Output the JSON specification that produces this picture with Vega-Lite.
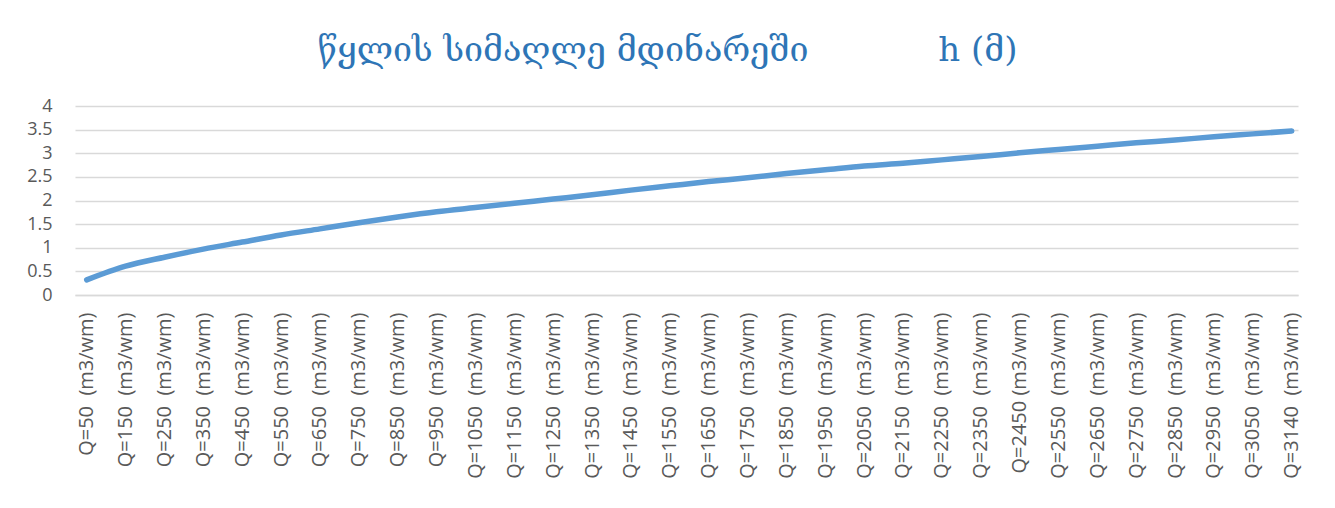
{
  "$schema": "https://vega.github.io/schema/vega-lite/v6.json",
  "autosize": {"type": "none"},
  "width": 1223,
  "height": 189,
  "padding": {"left": 75, "top": 106, "right": 37, "bottom": 213},
  "background": "white",
  "title": {
    "text": "წყლის სიმაღლე მდინარეში\u00a0\u00a0\u00a0\u00a0\u00a0\u00a0\u00a0\u00a0\u00a0\u00a0\u00a0\u00a0h (მ)",
    "font": "DejaVu Serif",
    "fontSize": 34,
    "fontWeight": "normal",
    "color": "#2E75B6",
    "anchor": "middle",
    "frame": "group",
    "baseline": "alphabetic",
    "offset": 2,
    "dx": -19
  },
  "data": {
    "values": [
      {"q": "Q=50\u00a0 (m3/wm)", "h": 0.32},
      {"q": "Q=150\u00a0 (m3/wm)", "h": 0.61},
      {"q": "Q=250\u00a0 (m3/wm)", "h": 0.80},
      {"q": "Q=350\u00a0 (m3/wm)", "h": 0.97},
      {"q": "Q=450\u00a0 (m3/wm)", "h": 1.12},
      {"q": "Q=550\u00a0 (m3/wm)", "h": 1.27},
      {"q": "Q=650\u00a0 (m3/wm)", "h": 1.40},
      {"q": "Q=750\u00a0 (m3/wm)", "h": 1.53},
      {"q": "Q=850\u00a0 (m3/wm)", "h": 1.65},
      {"q": "Q=950\u00a0 (m3/wm)", "h": 1.76},
      {"q": "Q=1050\u00a0 (m3/wm)", "h": 1.85},
      {"q": "Q=1150\u00a0 (m3/wm)", "h": 1.94},
      {"q": "Q=1250\u00a0 (m3/wm)", "h": 2.03},
      {"q": "Q=1350\u00a0 (m3/wm)", "h": 2.12},
      {"q": "Q=1450\u00a0 (m3/wm)", "h": 2.22},
      {"q": "Q=1550\u00a0 (m3/wm)", "h": 2.31},
      {"q": "Q=1650\u00a0 (m3/wm)", "h": 2.40},
      {"q": "Q=1750\u00a0 (m3/wm)", "h": 2.48},
      {"q": "Q=1850\u00a0 (m3/wm)", "h": 2.57},
      {"q": "Q=1950\u00a0 (m3/wm)", "h": 2.65},
      {"q": "Q=2050\u00a0 (m3/wm)", "h": 2.73},
      {"q": "Q=2150\u00a0 (m3/wm)", "h": 2.79},
      {"q": "Q=2250\u00a0 (m3/wm)", "h": 2.86},
      {"q": "Q=2350\u00a0 (m3/wm)", "h": 2.93},
      {"q": "Q=2450 (m3/wm)", "h": 3.01},
      {"q": "Q=2550\u00a0 (m3/wm)", "h": 3.08},
      {"q": "Q=2650\u00a0 (m3/wm)", "h": 3.15},
      {"q": "Q=2750\u00a0 (m3/wm)", "h": 3.22},
      {"q": "Q=2850\u00a0 (m3/wm)", "h": 3.28},
      {"q": "Q=2950\u00a0 (m3/wm)", "h": 3.35},
      {"q": "Q=3050\u00a0 (m3/wm)", "h": 3.41},
      {"q": "Q=3140\u00a0 (m3/wm)", "h": 3.47}
    ]
  },
  "mark": {
    "type": "line",
    "color": "#5B9BD5",
    "strokeWidth": 5.5,
    "strokeCap": "round",
    "strokeJoin": "round",
    "interpolate": "monotone"
  },
  "encoding": {
    "x": {
      "field": "q",
      "type": "ordinal",
      "sort": null,
      "scale": {"type": "point", "padding": 0.2315, "align": 0.65},
      "axis": {
        "title": null,
        "labelAngle": -90,
        "labelAlign": "right",
        "labelBaseline": "middle",
        "labelPadding": 17,
        "ticks": false,
        "tickSize": 0,
        "domain": true,
        "domainColor": "#D9D9D9",
        "domainWidth": 1.3,
        "grid": false,
        "labelFont": "Open Sans",
        "labelFontSize": 20,
        "labelColor": "#595959",
        "labelOverlap": false,
        "labelLimit": 300
      }
    },
    "y": {
      "field": "h",
      "type": "quantitative",
      "scale": {"domain": [0, 4], "nice": false, "zero": true},
      "axis": {
        "title": null,
        "values": [0, 0.5, 1, 1.5, 2, 2.5, 3, 3.5, 4],
        "format": "~g",
        "ticks": false,
        "tickSize": 0,
        "domain": false,
        "grid": true,
        "gridColor": "#D9D9D9",
        "gridWidth": 1.3,
        "labelPadding": 23,
        "labelFont": "Open Sans",
        "labelFontSize": 18,
        "labelColor": "#595959",
        "labelBaseline": "middle"
      }
    }
  },
  "config": {
    "view": {"stroke": null}
  }
}
